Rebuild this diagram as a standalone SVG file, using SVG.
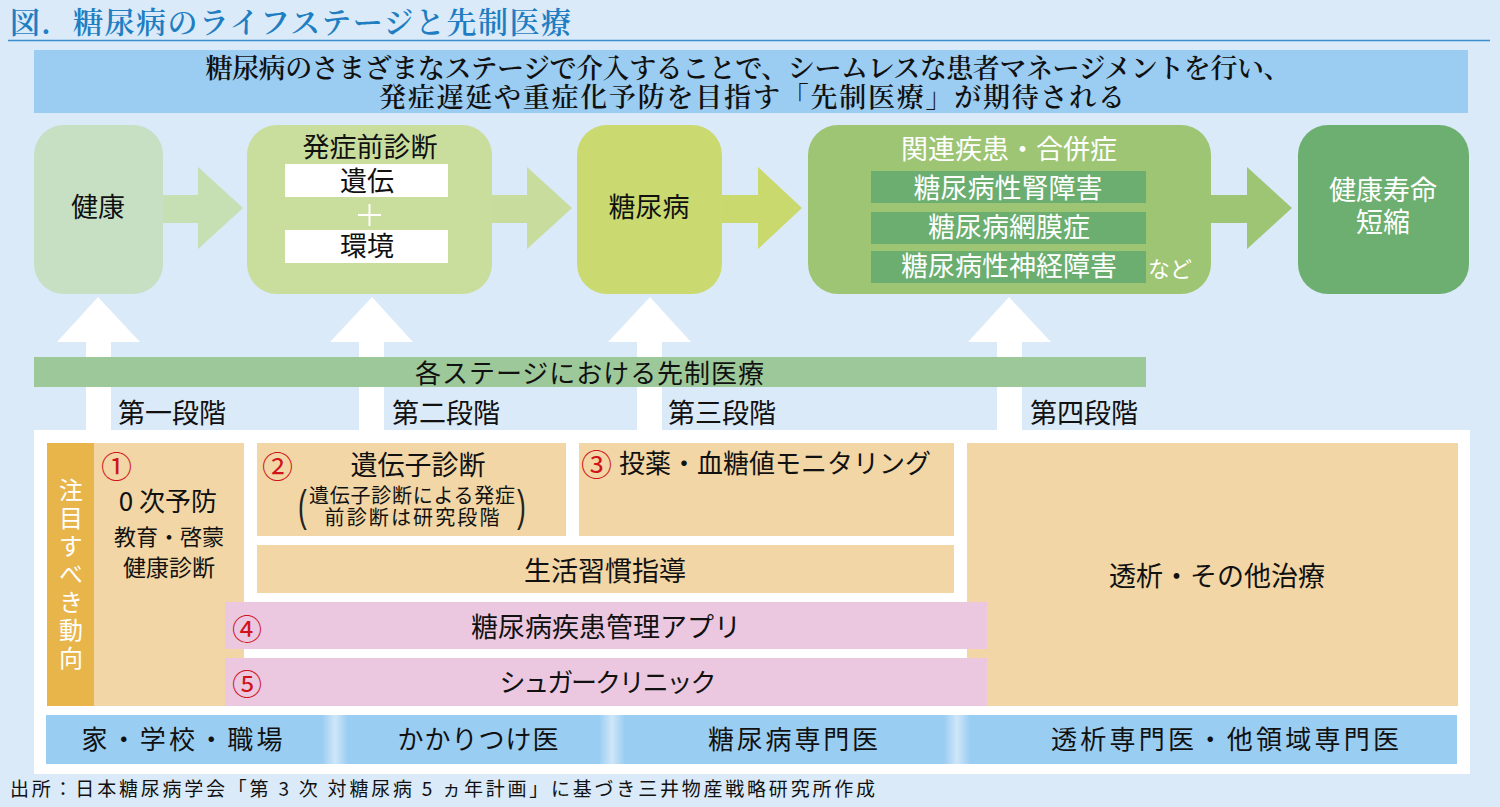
<svg xmlns="http://www.w3.org/2000/svg" width="1500" height="807" viewBox="0 0 1500 807">
<style>
text{font-family:"Noto Sans CJK JP","Noto Sans",sans-serif;fill:#111;}
.serif{font-family:"Noto Serif CJK JP","Noto Sans CJK JP",serif;}
.c{text-anchor:middle;}
.w{fill:#fff;}
.red{fill:#D0121B;}
.org{fill:#F2D6A5;}
.pink{fill:#EBC8DF;}
.inner{fill:#6BAE70;}
.uparrow{fill:#fff;}
.paren{font-family:"Liberation Sans",sans-serif;fill:#222;}
.vert{writing-mode:vertical-rl;text-orientation:upright;}
</style>
<defs>
<linearGradient id="sep" x1="0" y1="0" x2="1" y2="0">
<stop offset="0" stop-color="#9ACDF2"/>
<stop offset="0.5" stop-color="#CFE6F9"/>
<stop offset="1" stop-color="#9ACDF2"/>
</linearGradient>
</defs>
<rect x="0" y="0" width="1500" height="807" fill="#DAEAF8"/>
<g id="title">
<text class="serif" x="10" y="33" font-size="30" font-weight="600" style="fill:#1F7EC2" textLength="561">図．糖尿病のライフステージと先制医療</text>
<line x1="8" y1="40.5" x2="1490" y2="40.5" stroke="#3B8ED0" stroke-width="1.5"/>
</g>
<g id="banner">
<rect x="34" y="50" width="1434" height="63" fill="#9BCCF1"/>
<text class="serif c" font-size="27" font-weight="600"><tspan x="748" y="78" textLength="1085">糖尿病のさまざまなステージで介入することで、シームレスな患者マネージメントを行い、</tspan><tspan x="752" y="107" textLength="746">発症遅延や重症化予防を目指す「先制医療」が期待される</tspan></text>
</g>
<g id="connectors">
<polygon points="163,195 198,195 198,167 243,208 198,249 198,223 163,223" fill="#C6DFB3"/>
<polygon points="492,195 527,195 527,167 572,208 527,249 527,223 492,223" fill="#C8DC9E"/>
<polygon points="722,195 758,195 758,167 802,208 758,249 758,223 722,223" fill="#C9D96E"/>
<polygon points="1211,195 1247,195 1247,167 1292,208 1247,249 1247,223 1211,223" fill="#9DC573"/>
<polygon class="uparrow" points="98,297 140,342 111,342 111,432 86,432 86,342 57,342"/>
<polygon class="uparrow" points="372,297 413,342 384,342 384,432 359,432 359,342 330,342"/>
<polygon class="uparrow" points="650,297 691,342 662,342 662,432 637,432 637,342 608,342"/>
<polygon class="uparrow" points="1009,297 1051,342 1022,342 1022,432 997,432 997,342 968,342"/>
</g>
<g id="node-kenko">
<rect x="34" y="125" width="129" height="169" rx="30" fill="#C7E0C4"/>
<text class="c" x="98" y="217" font-size="27">健康</text>
</g>
<g id="node-hassho">
<rect x="247" y="125" width="245" height="169" rx="30" fill="#C9DD9C"/>
<text class="c" x="370" y="157" font-size="27">発症前診断</text>
<rect x="285" y="164" width="163" height="33" fill="#fff"/>
<text class="c" x="367" y="191" font-size="27">遺伝</text>
<line x1="358" y1="215" x2="381" y2="215" stroke="#fff" stroke-width="2"/>
<line x1="369.5" y1="204" x2="369.5" y2="226" stroke="#fff" stroke-width="2"/>
<rect x="285" y="230" width="163" height="33" fill="#fff"/>
<text class="c" x="367" y="256" font-size="27">環境</text>
</g>
<g id="node-tonyo">
<rect x="577" y="125" width="145" height="169" rx="30" fill="#CADA70"/>
<text class="c" x="649" y="217" font-size="27">糖尿病</text>
</g>
<g id="node-kanren">
<rect x="808" y="125" width="403" height="169" rx="30" fill="#9DC573"/>
<text class="c w" x="1009" y="159" font-size="27">関連疾患・合併症</text>
<rect class="inner" x="871" y="171" width="275" height="32"/>
<text class="c w" x="1008" y="198" font-size="27">糖尿病性腎障害</text>
<rect class="inner" x="871" y="212" width="275" height="32"/>
<text class="c w" x="1009" y="237" font-size="27">糖尿病網膜症</text>
<rect class="inner" x="871" y="251" width="275" height="32"/>
<text class="c w" x="1009" y="276" font-size="27">糖尿病性神経障害</text>
<text class="w" x="1148" y="277" font-size="22">など</text>
</g>
<g id="node-jumyo">
<rect x="1298" y="125" width="171" height="169" rx="30" fill="#6DAF70"/>
<text class="c w" font-size="27"><tspan x="1383" y="200">健康寿命</tspan><tspan x="1383" y="232">短縮</tspan></text>
</g>
<g id="stage-bar">
<rect x="34" y="357" width="1112" height="30" fill="#9DC89A"/>
<text x="415" y="383" font-size="26" textLength="349">各ステージにおける先制医療</text>
<text x="118" y="423" font-size="27">第一段階</text>
<text x="392" y="423" font-size="27">第二段階</text>
<text x="668" y="423" font-size="27">第三段階</text>
<text x="1030" y="423" font-size="27">第四段階</text>
</g>
<g id="panel">
<rect x="34" y="430" width="1436" height="344" fill="#fff"/>
</g>
<g id="trend-label">
<rect x="47" y="443" width="47" height="263" fill="#E8B54B"/>
<text class="w vert" x="71" y="478" font-size="24" letter-spacing="4">注目すべき動向</text>
</g>
<g id="box1">
<rect class="org" x="94" y="443" width="150" height="263"/>
<text class="red" x="101" y="478" font-size="31">①</text>
<text class="c"><tspan x="168" y="511" font-size="26">0 次予防</tspan><tspan x="169" y="545" font-size="22">教育・啓蒙</tspan><tspan x="169" y="576" font-size="23">健康診断</tspan></text>
</g>
<g id="box2">
<rect class="org" x="257" y="443" width="309" height="93"/>
<text class="red" x="262" y="478" font-size="31">②</text>
<text class="c" x="418" y="475" font-size="27">遺伝子診断</text>
<text class="paren" font-size="44" transform="translate(298,521) scale(0.6,1)">(</text>
<text class="c" font-size="20"><tspan x="412" y="503" textLength="206">遺伝子診断による発症</tspan><tspan x="412" y="525" textLength="175">前診断は研究段階</tspan></text>
<text class="paren" font-size="44" transform="translate(517,521) scale(0.6,1)">)</text>
</g>
<g id="box3">
<rect class="org" x="579" y="443" width="375" height="93"/>
<text class="red" x="581" y="476" font-size="31">③</text>
<text x="619" y="473" font-size="26" textLength="312">投薬・血糖値モニタリング</text>
</g>
<g id="lifestyle">
<rect class="org" x="257" y="545" width="697" height="48"/>
<text class="c" x="605" y="581" font-size="27">生活習慣指導</text>
</g>
<g id="box-dialysis">
<rect class="org" x="967" y="443" width="491" height="263"/>
<text class="c" x="1217" y="586" font-size="27">透析・その他治療</text>
</g>
<g id="app">
<rect class="pink" x="225" y="602" width="762" height="47"/>
<text class="red" x="232" y="640" font-size="30">④</text>
<text class="c" x="606" y="637" font-size="27">糖尿病疾患管理アプリ</text>
</g>
<g id="clinic">
<rect class="pink" x="225" y="658" width="762" height="48"/>
<text class="red" x="232" y="695" font-size="30">⑤</text>
<text class="c" x="608" y="692" font-size="26" textLength="217">シュガークリニック</text>
</g>
<g id="providers">
<rect x="46" y="715" width="1411" height="49" fill="#9ACDF2"/>
<rect x="322" y="715" width="26" height="49" fill="url(#sep)"/>
<rect x="599" y="715" width="26" height="49" fill="url(#sep)"/>
<rect x="944" y="715" width="26" height="49" fill="url(#sep)"/>
<text class="c" x="182" y="749" font-size="26" textLength="201">家・学校・職場</text>
<text class="c" x="478" y="749" font-size="26" textLength="161">かかりつけ医</text>
<text class="c" x="793" y="749" font-size="26" textLength="170">糖尿病専門医</text>
<text class="c" x="1225" y="749" font-size="26" textLength="348">透析専門医・他領域専門医</text>
</g>
<g id="source">
<text x="10" y="796" font-size="19" textLength="865">出所：日本糖尿病学会「第 3 次 対糖尿病 5 ヵ年計画」に基づき三井物産戦略研究所作成</text>
</g>
</svg>
